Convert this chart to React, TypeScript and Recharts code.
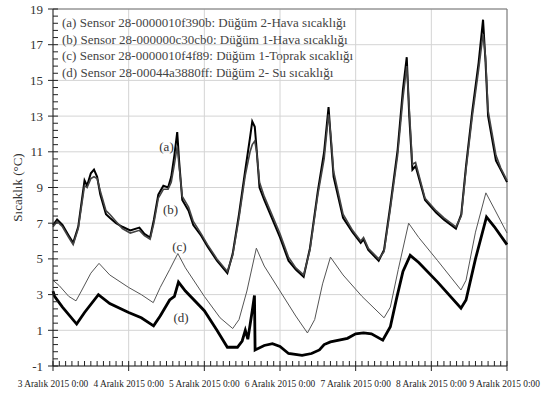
import { LineChart, Line, XAxis, YAxis, CartesianGrid, Legend, ReferenceLine, ReferenceDot } from 'recharts';

// hours since 3 Aralık 2015 0:00, temperature in °C
const sensorA: [number, number][] = [
  [0, 6.9], [1.3, 7.2], [3, 6.9], [5, 6.3], [6.4, 5.9], [8, 6.8], [10, 9.4], [10.8, 9.1], [12, 9.8], [13, 10.0],
  [14, 9.6], [15, 8.6], [16.8, 7.5], [18, 7.3], [20, 7.0], [22, 6.8], [24.5, 6.6], [27.4, 6.75], [29, 6.4], [30.8, 6.2],
  [32, 7.2], [33.4, 8.6], [35, 9.1], [36.5, 9.0], [37.5, 9.6], [38.5, 10.8], [39.4, 12.1], [40, 10.5], [41, 8.3], [43, 7.7],
  [44.5, 6.9], [47, 6.3], [49, 5.7], [52, 4.9], [55.3, 4.2], [57, 5.3], [59, 7.5], [61, 10.0], [62.5, 11.8], [63.2, 12.7],
  [64, 12.4], [64.6, 11.1], [65.5, 9.0], [67, 8.3], [70.6, 6.8], [72, 6.2], [74.7, 4.9], [77, 4.4], [79.5, 4.0], [81.5, 5.6],
  [84, 8.8], [86, 11.0], [87.4, 13.5], [88.2, 11.5], [89, 9.6], [92, 7.3], [95, 6.5], [97.6, 5.9], [98.5, 6.1], [100, 5.5],
  [103.3, 4.9], [105, 5.5], [107, 8.0], [109.3, 11.1], [111, 14.5], [112.2, 16.3], [113, 13.0], [114, 10.0], [115, 10.2], [118, 8.3],
  [121.5, 7.6], [124, 7.2], [127.8, 6.7], [129.5, 7.5], [131, 10.2], [133, 13.3], [135, 16.0], [136.4, 18.4], [137.2, 16.0], [138, 13.0],
  [140.5, 10.5], [142, 10.0], [144, 9.3],
];

const sensorB: [number, number][] = [
  [0, 6.8], [1.3, 7.1], [3, 6.8], [5, 6.2], [6.4, 5.8], [8, 6.7], [10, 9.1], [10.8, 9.0], [12, 9.5], [13, 9.6],
  [14, 9.5], [15, 8.8], [16.8, 7.7], [18, 7.5], [20, 7.1], [22, 6.7], [24.5, 6.45], [27.4, 6.6], [29, 6.3], [30.8, 6.1],
  [32, 7.0], [33.4, 8.4], [35, 8.9], [36.5, 8.9], [37.5, 9.3], [38.5, 10.3], [39.4, 11.3], [40, 10.2], [41, 8.5], [43, 7.9],
  [44.5, 7.1], [47, 6.4], [49, 5.8], [52, 5.0], [55.3, 4.3], [57, 5.2], [59, 7.3], [61, 9.7], [62.5, 11.0], [63.2, 11.4],
  [64, 11.6], [64.6, 11.0], [65.5, 9.3], [67, 8.5], [70.6, 7.0], [72, 6.4], [74.7, 5.1], [77, 4.5], [79.5, 4.1], [81.5, 5.5],
  [84, 8.6], [86, 10.6], [87.4, 13.1], [88.2, 11.8], [89, 9.9], [92, 7.5], [95, 6.6], [97.6, 6.0], [98.5, 6.2], [100, 5.6],
  [103.3, 5.0], [105, 5.4], [107, 7.8], [109.3, 10.8], [111, 14.0], [112.2, 15.8], [113, 13.4], [114, 10.3], [115, 10.4], [118, 8.4],
  [121.5, 7.7], [124, 7.3], [127.8, 6.8], [129.5, 7.4], [131, 10.0], [133, 13.0], [135, 15.6], [136.4, 17.6], [137.2, 16.3], [138, 13.3],
  [140.5, 10.8], [142, 10.1], [144, 9.4],
];

const sensorC: [number, number][] = [
  [0, 3.8], [2, 3.5], [5, 2.9], [7.3, 2.65], [9, 3.2], [12, 4.2], [14.6, 4.75], [18, 4.1], [24, 3.4], [28, 3.0],
  [31.8, 2.55], [34, 3.4], [37, 4.4], [39.6, 5.3], [42, 4.5], [48, 2.9], [53, 1.7], [57, 1.1], [59, 1.6], [61.5, 3.2],
  [64.5, 5.6], [67, 4.6], [72, 3.2], [77, 1.8], [80.7, 0.85], [83, 1.6], [85.5, 3.6], [88, 5.1], [92, 4.1], [98, 2.9],
  [105, 1.7], [107, 2.3], [109.5, 4.4], [112.8, 7.0], [116, 6.2], [122, 4.9], [129.4, 3.26], [131, 3.8], [134, 6.5], [137.3, 8.7],
  [140, 7.8], [144, 6.45],
];

const sensorD: [number, number][] = [
  [0, 3.2], [0.5, 2.9], [3, 2.3], [7.5, 1.35], [10, 2.0], [14.4, 3.0], [18, 2.5], [24, 2.0], [28, 1.7], [31.9, 1.25],
  [34, 1.8], [37, 2.7], [38.5, 2.9], [39.8, 3.7], [42, 3.2], [48, 2.1], [52, 1.0], [55.3, 0.05], [58.5, 0.05], [60, 0.4],
  [61, 1.0], [61.8, 0.5], [63.2, 2.1], [63.9, 2.95], [64.1, -0.1], [67, 0.15], [69.6, 0.25], [72, 0.1], [74.7, -0.3], [79, -0.4],
  [82, -0.3], [84.5, -0.1], [86, 0.2], [88, 0.35], [93.4, 0.55], [96, 0.8], [98.5, 0.85], [101, 0.8], [104.6, 0.45], [107, 1.2],
  [109, 2.8], [111, 4.3], [113.3, 5.2], [116, 4.8], [122, 3.7], [129.4, 2.24], [131, 2.7], [134, 5.0], [137.5, 7.35], [140, 6.8],
  [144, 5.8],
];

const seriesNames = [
  '(a) Sensor 28-0000010f390b: Düğüm 2-Hava sıcaklığı',
  '(b) Sensor 28-000000c30cb0: Düğüm 1-Hava sıcaklığı',
  '(c) Sensor 28-0000010f4f89: Düğüm 1-Toprak sıcaklığı',
  '(d) Sensor 28-00044a3880ff: Düğüm 2- Su sıcaklığı',
];

const dayHours = [0, 24, 48, 72, 96, 120, 144];
const dayLabels = [
  '3 Aralık 2015 0:00',
  '4 Aralık 2015 0:00',
  '5 Aralık 2015 0:00',
  '6 Aralık 2015 0:00',
  '7 Aralık 2015 0:00',
  '8 Aralık 2015 0:00',
  '9 Aralık 2015 0:00',
];
const yMajor = [-1, 1, 3, 5, 7, 9, 11, 13, 15, 17, 19];

// curve tags drawn next to the lines
const tags = [
  { text: '(a)', h: 36, v: 11.3 },
  { text: '(b)', h: 37.3, v: 7.8 },
  { text: '(c)', h: 40.1, v: 5.7 },
  { text: '(d)', h: 40.6, v: 1.7 },
];

const toRows = (pts: [number, number][]) => pts.map(([h, t]) => ({ h, t }));

const yTicks = Array.from({ length: 51 }, (_, i) => Math.round((-1 + i * 0.4) * 10) / 10);
const xTicks = Array.from({ length: 73 }, (_, i) => i * 2);

const serif = '"Liberation Serif", "Times New Roman", serif';

function YTick(props: any) {
  const { x, y, payload } = props;
  const major = yMajor.includes(payload.value);
  return (
    <g>
      <line x1={major ? x - 5 : x} x2={x + 5} y1={y} y2={y} stroke="#222" strokeWidth={1} />
      {major && (
        <text x={x - 10} y={y} dy={4.5} textAnchor="end" fontFamily={serif} fontSize={13} fill="#333">
          {payload.value}
        </text>
      )}
    </g>
  );
}

function XTick(props: any) {
  const { x, y, payload } = props;
  const idx = dayHours.indexOf(payload.value);
  const major = idx >= 0;
  const last = idx === dayHours.length - 1;
  return (
    <g>
      <line x1={x} x2={x} y1={y - 5} y2={major ? y + 5 : y} stroke="#222" strokeWidth={1} />
      {major && (
        <text
          x={last ? 540 : x}
          y={y + 21}
          textAnchor={last ? 'end' : 'middle'}
          fontFamily={serif}
          fontSize={9.4}
          fill="#222"
        >
          {dayLabels[idx]}
        </text>
      )}
    </g>
  );
}

function LegendBox(props: any) {
  const { payload } = props;
  return (
    <div style={{ fontFamily: serif, fontSize: 13, color: '#444', lineHeight: '16.5px', whiteSpace: 'nowrap' }}>
      {(payload || []).map((p: any) => (
        <div key={p.value}>{p.value}</div>
      ))}
    </div>
  );
}

export default function App() {
  return (
    <div style={{ position: 'absolute', left: 0, top: 0, width: 543, height: 394, background: '#fff' }}>
      <LineChart width={543} height={394} margin={{ top: 9, right: 36, bottom: 0, left: 0 }}>
        <CartesianGrid
          stroke="#d4d4d4"
          horizontalValues={yMajor}
          verticalValues={dayHours}
        />
        <XAxis
          dataKey="h"
          type="number"
          domain={[0, 144]}
          ticks={xTicks}
          interval={0}
          tickSize={0}
          tickMargin={0}
          tickLine={false}
          tick={<XTick />}
          height={28}
          axisLine={{ stroke: '#222' }}
          allowDuplicatedCategory={false}
        />
        <YAxis
          type="number"
          domain={[-1, 19]}
          ticks={yTicks}
          interval={0}
          tickSize={0}
          tickMargin={0}
          tickLine={false}
          tick={<YTick />}
          width={53}
          axisLine={{ stroke: '#222' }}
          label={{
            value: 'Sıcaklık (°C)',
            angle: -90,
            position: 'center',
            dx: -9,
            style: { fontFamily: serif, fontSize: 13, fill: '#333', textAnchor: 'middle' },
          }}
        />
        <ReferenceLine y={19} stroke="#777" />
        <ReferenceLine x={144} stroke="#777" />
        <Legend
          content={<LegendBox />}
          wrapperStyle={{ position: 'absolute', top: 15, left: 62, width: 0, height: 0, overflow: 'visible' }}
        />
        <Line data={toRows(sensorA)} dataKey="t" name={seriesNames[0]} stroke="#000" strokeWidth={2} dot={false} isAnimationActive={false} />
        <Line data={toRows(sensorB)} dataKey="t" name={seriesNames[1]} stroke="#444" strokeWidth={1.6} dot={false} isAnimationActive={false} />
        <Line data={toRows(sensorC)} dataKey="t" name={seriesNames[2]} stroke="#555" strokeWidth={1} dot={false} isAnimationActive={false} />
        <Line data={toRows(sensorD)} dataKey="t" name={seriesNames[3]} stroke="#000" strokeWidth={2.8} dot={false} isAnimationActive={false} />
        {tags.map((tg) => (
          <ReferenceDot
            key={tg.text}
            x={tg.h}
            y={tg.v}
            r={0.01}
            fill="none"
            stroke="none"
            label={{ value: tg.text, position: 'center', style: { fontFamily: serif, fontSize: 13, fill: '#333' } }}
          />
        ))}
      </LineChart>
    </div>
  );
}
